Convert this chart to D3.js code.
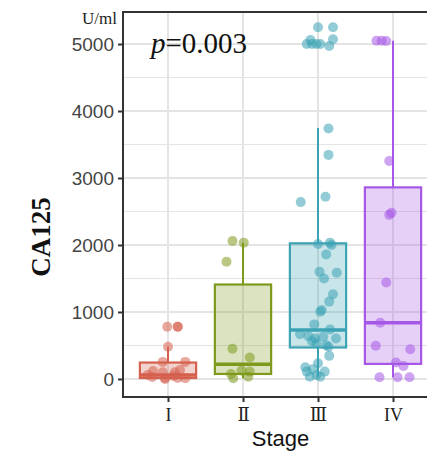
<!DOCTYPE html>
<html>
<head>
<meta charset="utf-8">
<script src="https://cdn.jsdelivr.net/npm/d3@7"></script>
<style>
  body { margin: 0; background: #fff; }
  svg { display: block; }
</style>
</head>
<body>
<svg id="chart" width="427" height="455"></svg>
<script>
// categories and colours
var stages = [ "I", "Ⅱ", "Ⅲ", "IV" ];
var colors = [ "#d5604e", "#7e9a1c", "#3ba3b4", "#a657e6" ];

// box statistics (U/ml)
var boxLow    = [ 0, 10, 35, 25 ];
var boxQ1     = [ 15, 75, 470, 225 ];
var boxMedian = [ 60, 220, 730, 840 ];
var boxQ3     = [ 245, 1410, 2025, 2860 ];
var boxHigh   = [ 480, 2035, 3745, 5050 ];

// jittered points: [ value, horizontal offset in category units ]
var pointsI = [
  [ 780, -0.01 ], [ 780, 0.13 ], [ 780, 0.13 ], [ 480, 0 ], [ 255, -0.07 ], [ 255, 0.23 ],
  [ 135, 0.16 ], [ 120, -0.2 ], [ 100, -0.07 ], [ 100, 0.09 ], [ 60, -0.27 ],
  [ 30, -0.21 ], [ 15, 0.13 ], [ 15, -0.04 ], [ 0, -0.04 ], [ 45, 0.07 ], [ 10, 0.23 ]
];
var pointsII = [
  [ 2060, -0.14 ], [ 2035, 0.01 ], [ 1750, -0.22 ], [ 450, -0.14 ], [ 320, 0.09 ],
  [ 125, -0.02 ], [ 110, 0.09 ], [ 75, -0.16 ], [ 10, -0.13 ], [ 35, 0.07 ]
];
var pointsIII = [
  [ 5250, 0 ], [ 5250, 0.2 ], [ 5070, 0.2 ], [ 4970, 0.15 ], [ 5000, -0.15 ], [ 5000, -0.08 ],
  [ 5000, -0.02 ], [ 5000, 0.03 ], [ 5060, -0.1 ],
  [ 3740, 0.14 ], [ 3345, 0.14 ], [ 2720, 0.1 ], [ 2640, -0.23 ],
  [ 2015, 0 ], [ 2035, 0.16 ], [ 2000, 0.18 ], [ 1860, 0.11 ], [ 1600, 0.02 ], [ 1500, 0.08 ],
  [ 1585, 0.25 ], [ 1265, 0.2 ], [ 1155, 0.15 ], [ 1030, 0.05 ], [ 1005, 0.03 ],
  [ 815, -0.05 ], [ 740, 0.16 ], [ 670, -0.24 ], [ 640, -0.13 ], [ 605, -0.04 ], [ 630, 0.07 ],
  [ 605, 0.24 ], [ 565, -0.08 ], [ 530, -0.02 ], [ 505, 0.11 ], [ 480, 0.14 ], [ 345, 0.15 ],
  [ 235, 0 ], [ 175, -0.17 ], [ 110, -0.15 ], [ 145, -0.07 ], [ 60, -0.02 ], [ 110, 0.09 ],
  [ 35, 0.03 ], [ 35, -0.11 ]
];
var pointsIV = [
  [ 5050, -0.22 ], [ 5050, -0.15 ], [ 5045, -0.09 ],
  [ 3255, -0.05 ], [ 2480, -0.02 ], [ 2450, -0.05 ], [ 1440, -0.09 ], [ 840, -0.17 ],
  [ 495, -0.23 ], [ 445, 0.23 ], [ 245, 0.04 ], [ 195, 0.14 ],
  [ 25, -0.18 ], [ 25, 0.06 ], [ 25, 0.22 ]
];
var points = [ pointsI, pointsII, pointsIII, pointsIV ];

var yTicks = [ 0, 1000, 2000, 3000, 4000, 5000 ];
var yMinor = [ 500, 1500, 2500, 3500, 4500 ];

var svg = d3.select( "#chart" );

var panel = { left: 123, top: 12, right: 438, bottom: 397 };

var x = d3.scaleLinear().domain( [ 0.4, 4.6 ] ).range( [ panel.left, panel.right ] );
var y = d3.scaleLinear().domain( [ -269, 5478 ] ).range( [ panel.bottom, panel.top ] );

var boxHalf = 0.375;

// grid
var grid = svg.append( "g" ).attr( "stroke", "#e4e4e4" );
grid.selectAll( ".minor" ).data( yMinor ).enter()
  .append( "line" )
  .attr( "x1", panel.left ).attr( "x2", panel.right )
  .attr( "y1", function( d ){ return y( d ); } )
  .attr( "y2", function( d ){ return y( d ); } )
  .attr( "stroke-width", 1.2 );
grid.selectAll( ".major" ).data( yTicks ).enter()
  .append( "line" )
  .attr( "x1", panel.left ).attr( "x2", panel.right )
  .attr( "y1", function( d ){ return y( d ); } )
  .attr( "y2", function( d ){ return y( d ); } )
  .attr( "stroke-width", 2 );
grid.selectAll( ".vert" ).data( stages ).enter()
  .append( "line" )
  .attr( "x1", function( d, i ){ return x( i + 1 ); } )
  .attr( "x2", function( d, i ){ return x( i + 1 ); } )
  .attr( "y1", panel.top ).attr( "y2", panel.bottom )
  .attr( "stroke-width", 2 );

// boxes
stages.forEach( function( s, i ){
  var c = colors[ i ];
  var g = svg.append( "g" );
  var cx = x( i + 1 );

  g.append( "line" )
    .attr( "x1", cx ).attr( "x2", cx )
    .attr( "y1", y( boxQ3[ i ] ) ).attr( "y2", y( boxHigh[ i ] ) )
    .attr( "stroke", c ).attr( "stroke-width", 2 );
  g.append( "line" )
    .attr( "x1", cx ).attr( "x2", cx )
    .attr( "y1", y( boxQ1[ i ] ) ).attr( "y2", y( boxLow[ i ] ) )
    .attr( "stroke", c ).attr( "stroke-width", 2 );

  g.append( "rect" )
    .attr( "x", x( i + 1 - boxHalf ) )
    .attr( "width", x( i + 1 + boxHalf ) - x( i + 1 - boxHalf ) )
    .attr( "y", y( boxQ3[ i ] ) )
    .attr( "height", y( boxQ1[ i ] ) - y( boxQ3[ i ] ) )
    .attr( "fill", c ).attr( "fill-opacity", 0.28 )
    .attr( "stroke", c ).attr( "stroke-width", 2.2 );

  g.append( "line" )
    .attr( "x1", x( i + 1 - boxHalf ) ).attr( "x2", x( i + 1 + boxHalf ) )
    .attr( "y1", y( boxMedian[ i ] ) ).attr( "y2", y( boxMedian[ i ] ) )
    .attr( "stroke", c ).attr( "stroke-width", 3.5 );

  g.selectAll( "circle" ).data( points[ i ] ).enter()
    .append( "circle" )
    .attr( "cx", function( d ){ return x( i + 1 + d[ 1 ] ); } )
    .attr( "cy", function( d ){ return y( d[ 0 ] ); } )
    .attr( "r", 5 )
    .attr( "fill", c ).attr( "fill-opacity", 0.55 );
} );

// axes
var yAxis = d3.axisLeft( y ).tickValues( yTicks ).tickFormat( d3.format( "d" ) )
  .tickSize( 5 ).tickPadding( 4 );
var gy = svg.append( "g" ).attr( "transform", "translate(" + panel.left + ",0)" ).call( yAxis );
gy.select( ".domain" ).remove();
gy.selectAll( "line" ).attr( "stroke", "#333" ).attr( "stroke-width", 2 );
gy.selectAll( "text" )
  .attr( "font-family", "Liberation Sans, Arial, sans-serif" )
  .attr( "font-size", 19 ).attr( "fill", "#444" );

var xAxis = d3.axisBottom( x ).tickValues( [ 1, 2, 3, 4 ] )
  .tickFormat( function( d ){ return stages[ d - 1 ]; } )
  .tickSize( 5 ).tickPadding( 6 );
var gx = svg.append( "g" ).attr( "transform", "translate(0," + panel.bottom + ")" ).call( xAxis );
gx.select( ".domain" ).remove();
gx.selectAll( "line" ).attr( "stroke", "#333" ).attr( "stroke-width", 2 );
gx.selectAll( "text" )
  .attr( "font-family", "Liberation Serif, DejaVu Serif, serif" )
  .attr( "font-size", 18 ).attr( "fill", "#222" );

// panel border (left, bottom, top)
svg.append( "path" )
  .attr( "d", "M" + 427 + "," + panel.top + "H" + panel.left + "V" + panel.bottom + "H" + 427 )
  .attr( "fill", "none" ).attr( "stroke", "#333" ).attr( "stroke-width", 2 );

// labels
svg.append( "text" )
  .attr( "x", 117 ).attr( "y", 24 )
  .attr( "text-anchor", "end" )
  .attr( "font-family", "Liberation Serif, serif" )
  .attr( "font-size", 17 ).attr( "fill", "#222" )
  .text( "U/ml" );

var pt = svg.append( "text" )
  .attr( "x", 151 ).attr( "y", 53 )
  .attr( "font-family", "Liberation Serif, serif" )
  .attr( "font-size", 29 ).attr( "fill", "#111" );
pt.append( "tspan" ).attr( "font-style", "italic" ).text( "p" );
pt.append( "tspan" ).text( "=0.003" );

svg.append( "text" )
  .attr( "transform", "translate(50,237) rotate(-90)" )
  .attr( "text-anchor", "middle" )
  .attr( "font-family", "Liberation Serif, serif" )
  .attr( "font-weight", "bold" )
  .attr( "font-size", 27 ).attr( "fill", "#111" )
  .text( "CA125" );

svg.append( "text" )
  .attr( "x", ( panel.left + panel.right ) / 2 ).attr( "y", 446 )
  .attr( "text-anchor", "middle" )
  .attr( "font-family", "Liberation Sans, Arial, sans-serif" )
  .attr( "font-size", 22 ).attr( "fill", "#111" )
  .text( "Stage" );
</script>
</body>
</html>
